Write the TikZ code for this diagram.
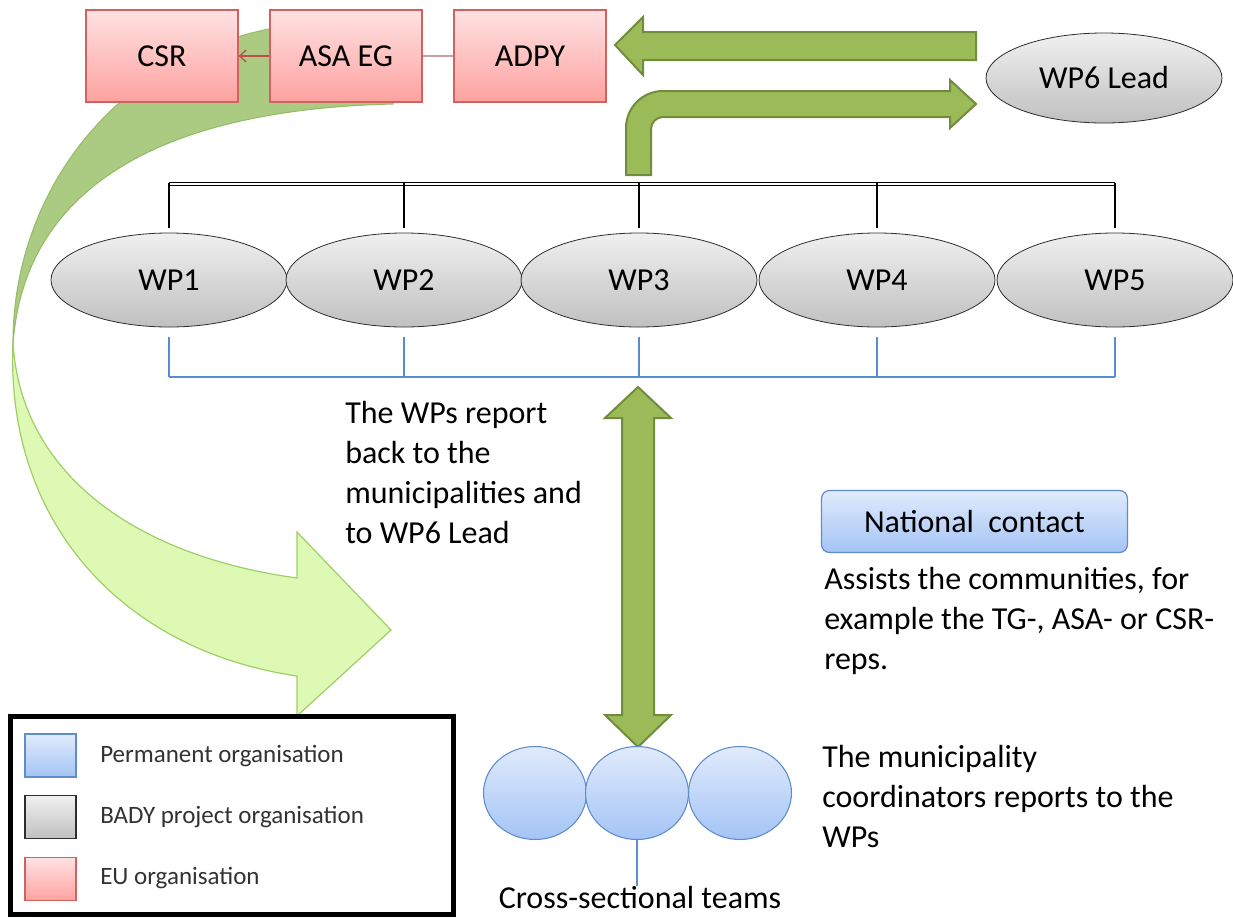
\documentclass[tikz,border=0pt]{standalone}
\usepackage{fontspec}
\setmainfont{Carlito}
\usepackage{tikz}
\usetikzlibrary{shapes.geometric,arrows.meta}

\definecolor{eutop}{RGB}{255,226,226}
\definecolor{eubot}{RGB}{253,162,160}
\definecolor{eudraw}{RGB}{208,98,96}
\definecolor{wptop}{RGB}{240,240,240}
\definecolor{wpbot}{RGB}{192,192,192}
\definecolor{wpdraw}{RGB}{45,45,45}
\definecolor{permtop}{RGB}{224,235,252}
\definecolor{permbot}{RGB}{164,196,245}
\definecolor{permdraw}{RGB}{95,140,202}
\definecolor{olivefill}{RGB}{155,187,89}
\definecolor{olivedraw}{RGB}{113,140,60}
\definecolor{bandback}{RGB}{172,203,130}
\definecolor{bandbackdraw}{RGB}{150,188,104}
\definecolor{bandfront}{RGB}{222,249,180}
\definecolor{bandfrontdraw}{RGB}{160,206,102}
\definecolor{legendgrey}{RGB}{50,50,50}

\begin{document}
\begin{tikzpicture}[x=0.75pt,y=0.75pt,yscale=-1,
  every node/.style={font=\fontsize{24}{30}\selectfont},
  eubox/.style={draw=eudraw,line width=0.9pt,top color=eutop,bottom color=eubot,minimum width=114pt,minimum height=69pt,inner sep=0pt},
  wpnode/.style={ellipse,draw=wpdraw,line width=0.6pt,top color=wptop,bottom color=wpbot,minimum width=177pt,minimum height=70.5pt,inner sep=0pt},
  teamnode/.style={ellipse,draw=permdraw,line width=0.8pt,top color=permtop,bottom color=permbot,minimum width=77.25pt,minimum height=69.75pt,inner sep=0pt},
  blockarrow/.style={fill=olivefill,draw=olivedraw,line width=1.5pt,line join=miter},
  note/.style={align=left,inner sep=0pt,anchor=west},
  swatch/.style={minimum width=38.25pt,minimum height=32.25pt,inner sep=0pt,line width=0.9pt},
  legtext/.style={anchor=west,inner sep=0pt,text=legendgrey,font=\fontsize{18.75}{22}\selectfont},
  blackbar/.style={draw=black,line width=0.8pt},
  bluebar/.style={draw={rgb,255:red,85;green,140;blue,210},line width=0.8pt}]
\useasboundingbox (0,0) rectangle (1233,918);

%Shape: Curved Right Arrow (back)
\draw[fill=bandback,draw=bandbackdraw,line width=0.8pt] (300,24) .. controls (120,45) and (12,190) .. (13,345) .. controls (22,205) and (135,110) .. (393,104) -- (400,40) -- cycle ;
%Shape: Curved Right Arrow (front)
\draw[fill=bandfront,draw=bandfrontdraw,line width=0.9pt] (13,342) .. controls (5,520) and (120,650) .. (297,676) -- (297,716) -- (391,630) -- (297,532) -- (297,578) .. controls (130,555) and (20,470) .. (13,342) -- cycle ;

%EU organisation
\node[eubox] (csr) at (162,56) {CSR};
\node[eubox] (asa) at (346,56) {ASA EG};
\node[eubox] (adpy) at (530,56) {ADPY};
\draw[draw={rgb,255:red,200;green,158;blue,158},line width=1.2pt] (adpy.west) -- (asa.east);
\draw[draw={rgb,255:red,192;green,80;blue,77},line width=1pt,-{Straight Barb[length=5pt,width=9pt]}] (asa.west) -- (csr.east);

%WP6 lead
\node[wpnode,minimum height=67.5pt] (wp6) at (1104,78) {WP6 Lead};

%Shape: Left Arrow
\draw[blockarrow] (976,32) -- (643,32) -- (643,17) -- (615,45) -- (643,75) -- (643,60) -- (976,60) -- cycle ;
%Shape: Bent Arrow
\draw[blockarrow] (626,175) -- (626,128) .. controls (626,107.6) and (642.6,91) .. (663,91) -- (950,91) -- (950,80) -- (976,104) -- (950,128) -- (950,117) -- (663,117) .. controls (656.4,117) and (651,122.6) .. (651,129) -- (651,175) -- cycle ;

%work packages
\node[wpnode] (wp1) at (169,280) {WP1};
\node[wpnode] (wp2) at (404,280) {WP2};
\node[wpnode] (wp3) at (639,280) {WP3};
\node[wpnode] (wp4) at (877,280) {WP4};
\node[wpnode] (wp5) at (1115,280) {WP5};

\coordinate (topbar) at (0,184);
\coordinate (lowbar) at (0,377);
\draw[blackbar,double,double distance=1.6pt] (wp1.north |- topbar) -- (wp5.north |- topbar);
\draw[bluebar] (wp1.south |- lowbar) -- (wp5.south |- lowbar);
\foreach \i in {1,...,5} {
  \draw[blackbar] (wp\i.north) ++(0,-5) -- ([yshift=-1pt]wp\i.north |- topbar);
  \draw[bluebar] (wp\i.south) ++(0,10) -- (wp\i.south |- lowbar);
}

\node[note] (wpreport) at (345,473) {The WPs report\\back to the\\municipalities and\\to WP6 Lead};

%Shape: Up-Down Arrow
\draw[blockarrow] (638,387) -- (671,418) -- (654,418) -- (654,715) -- (671,715) -- (638,747) -- (605,715) -- (622,715) -- (622,418) -- (605,418) -- cycle ;

%national contact
\node[draw=permdraw,line width=0.9pt,rounded corners=6pt,top color=permtop,bottom color=permbot,minimum width=229.5pt,minimum height=46.5pt] (natcontact) at (974.5,521.5) {National\ \ contact};
\node[note] (assists) at (824,621) {Assists the communities, for\\example the TG-, ASA- or CSR-\\reps.};

%cross-sectional teams
\node[teamnode] (team1) at (535,793) {};
\node[teamnode] (team3) at (740,793) {};
\node[teamnode] (team2) at (637,793) {};
\node[inner sep=0pt] (teamlabel) at (640,897) {Cross-sectional teams};
\draw[draw=permdraw,line width=0.8pt] (team2.south) -- (team2.south |- teamlabel.north);
\node[note] (coordinators) at (822,796) {The municipality\\coordinators reports to the\\WPs};

%legend
\draw[line width=3.75pt] (10,716) rectangle (453,914);
\node[swatch,draw=permdraw,top color=permtop,bottom color=permbot] (legperm) at (50.5,755.5) {};
\node[swatch,draw=wpdraw,top color=wptop,bottom color=wpbot] (legbady) at (50.5,817) {};
\node[swatch,draw=eudraw,top color=eutop,bottom color=eubot] (legeu) at (50.5,879) {};
\node[legtext] (legpermtext) at (100,756) {Permanent organisation};
\node[legtext] (legbadytext) at (100,817) {BADY project organisation};
\node[legtext] (legeutext) at (100,878) {EU organisation};

\end{tikzpicture}
\end{document}
